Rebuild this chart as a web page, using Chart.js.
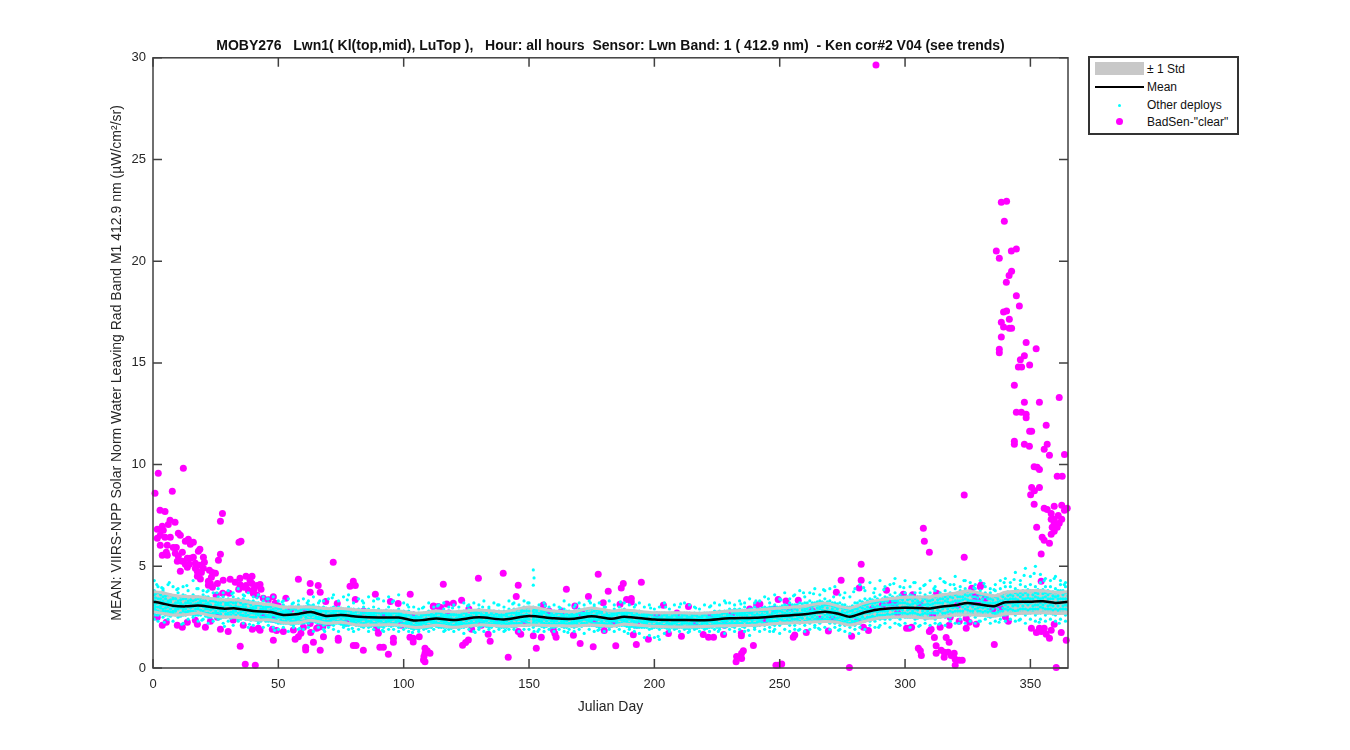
<!DOCTYPE html>
<html>
<head>
<meta charset="utf-8">
<title>MOBY276 Lwn1</title>
<script src="https://cdn.jsdelivr.net/npm/chart.js@4"></script>
<style>
    html, body { margin: 0; padding: 0; background: #fff; }
    #wrap { position: relative; width: 1350px; height: 750px; overflow: hidden; }
    #legend {
        position: absolute; left: 1088px; top: 56px; width: 147px; height: 75px;
        border: 2px solid #333; background: #fff;
        font: 12px "Liberation Sans", Arial, sans-serif; color: #111;
    }
    #legend .row { position: absolute; left: 57px; white-space: nowrap; line-height: 14px; }
    #legend .mark { position: absolute; }
</style>
</head>
<body>
<div id="wrap">
    <canvas id="chart" width="1350" height="750"></canvas>
    <div id="legend">
        <div class="mark" style="left:5px;top:4px;width:49px;height:13px;background:#c8c8c8"></div>
        <div class="row" style="top:4px">± 1 Std</div>
        <div class="mark" style="left:5px;top:28px;width:49px;height:2px;background:#000"></div>
        <div class="row" style="top:22px">Mean</div>
        <div class="mark" style="left:28px;top:46px;width:3px;height:3px;border-radius:50%;background:#00ffff"></div>
        <div class="row" style="top:40px">Other deploys</div>
        <div class="mark" style="left:26px;top:60px;width:7px;height:7px;border-radius:50%;background:#ff00ff"></div>
        <div class="row" style="top:57px">BadSen-"clear"</div>
    </div>
</div>
<script>
const titleText = 'MOBY276   Lwn1( Kl(top,mid), LuTop ),   Hour: all hours  Sensor: Lwn Band: 1 ( 412.9 nm)  - Ken cor#2 V04 (see trends)';
const xLabel = 'Julian Day';
const yLabel = 'MEAN: VIIRS-NPP Solar Norm Water Leaving Rad Band M1 412.9 nm (µW/cm²/sr)';
const xTicks = [0, 50, 100, 150, 200, 250, 300, 350];
const yTicks = [0, 5, 10, 15, 20, 25, 30];

const meanDays = [0, 3, 8, 13, 18, 23, 28, 33, 40, 47, 52, 58, 63, 69, 75, 82, 90, 98, 104, 108, 113, 120, 130, 140, 150, 160, 168, 175, 183, 188, 200, 210, 220, 230, 240, 250, 260, 268, 273, 278, 284, 290, 300, 310, 315, 320, 325, 333, 336, 340, 350, 355, 360, 365];
const meanValues = [3.26, 3.2, 3.06, 3.03, 3.07, 3.0, 2.92, 2.93, 2.8, 2.75, 2.61, 2.66, 2.75, 2.56, 2.6, 2.52, 2.48, 2.48, 2.34, 2.36, 2.43, 2.36, 2.49, 2.39, 2.56, 2.44, 2.42, 2.54, 2.42, 2.52, 2.38, 2.36, 2.35, 2.44, 2.47, 2.56, 2.64, 2.77, 2.68, 2.52, 2.74, 2.89, 2.96, 2.93, 3.02, 3.08, 3.2, 3.06, 3.05, 3.23, 3.26, 3.28, 3.2, 3.26];
const upperValues = [3.75, 3.72, 3.58, 3.52, 3.5, 3.42, 3.35, 3.35, 3.2, 3.12, 3.0, 3.0, 3.0, 2.92, 2.92, 2.85, 2.82, 2.8, 2.7, 2.72, 2.8, 2.76, 2.85, 2.77, 3.0, 2.8, 2.78, 2.95, 2.8, 2.85, 2.72, 2.72, 2.7, 2.8, 2.85, 2.95, 3.05, 3.2, 3.05, 2.95, 3.2, 3.35, 3.48, 3.5, 3.6, 3.68, 3.78, 3.6, 3.55, 3.72, 3.8, 3.8, 3.72, 3.75];
const lowerValues = [2.77, 2.7, 2.6, 2.62, 2.7, 2.58, 2.5, 2.5, 2.36, 2.36, 2.22, 2.22, 2.35, 2.2, 2.25, 2.11, 2.12, 2.12, 2.0, 2.02, 2.1, 2.0, 2.12, 2.05, 2.11, 2.08, 2.06, 2.12, 2.06, 2.15, 2.05, 2.02, 2.04, 2.08, 2.1, 2.2, 2.24, 2.28, 2.25, 2.11, 2.3, 2.46, 2.52, 2.45, 2.52, 2.6, 2.62, 2.58, 2.55, 2.65, 2.7, 2.72, 2.68, 2.7];

// each row: day, then the values of the other deployments on that day
const otherDeploys = [
[0.5,2.4,2.7,2.9,3.1,3.3,3.6,3.8,4.3],[2,2.3,2.6,2.8,3.0,3.2,3.4,3.7,4.0],[4,2.5,2.8,2.9,3.1,3.3,3.5,3.8,3.9],[6,2.4,2.6,2.8,3.0,3.2,3.3,3.6,4.1],
[8,2.3,2.7,2.8,3.0,3.1,3.4,3.5,4.0],[10,2.5,2.6,2.9,3.0,3.2,3.3,3.7,3.9],[12,2.2,2.6,2.8,2.9,3.1,3.4,3.6,4.0],[14,2.4,2.7,2.8,3.0,3.2,3.3,3.5,3.8],
[16,2.5,2.6,2.8,3.0,3.1,3.3,3.6,4.3],[18,2.3,2.6,2.9,3.0,3.2,3.4,3.5,3.9],[20,2.4,2.7,2.8,3.0,3.1,3.3,3.6,3.8],[22,2.2,2.5,2.7,2.9,3.1,3.2,3.5,3.8],
[24,2.3,2.6,2.7,2.9,3.0,3.3,3.4,3.7],[26,2.4,2.5,2.7,2.9,3.1,3.2,3.5,3.9],[28,2.2,2.5,2.8,2.9,3.0,3.3,3.5,3.7],[30,2.3,2.6,2.7,2.9,3.1,3.2,3.4,3.8],
[32,2.1,2.5,2.7,2.8,3.0,3.2,3.5,3.7],[34,2.3,2.4,2.7,2.9,3.0,3.3,3.4,3.9],[36,2.2,2.5,2.6,2.8,3.0,3.1,3.4,3.6],[38,2.0,2.4,2.6,2.8,2.9,3.2,3.3,3.7],
[40,2.1,2.4,2.5,2.7,2.9,3.0,3.3,3.5],[42,2.2,2.3,2.6,2.7,2.8,3.1,3.2,3.6],[44,2.0,2.4,2.5,2.7,2.9,3.0,3.3,3.5],[46,2.1,2.3,2.5,2.6,2.8,3.0,3.2,3.4],
[48,2.0,2.3,2.4,2.6,2.8,2.9,3.1,3.5],[50,1.9,2.2,2.5,2.6,2.7,2.9,3.0,3.3],[52,2.0,2.2,2.3,2.5,2.7,2.8,3.1,3.3],[54,1.8,2.2,2.4,2.5,2.7,2.8,3.0,3.4],
[56,2.0,2.1,2.3,2.5,2.6,2.9,3.0,3.2],[58,1.9,2.2,2.4,2.5,2.7,2.8,3.1,3.3],[60,1.9,2.2,2.3,2.6,2.7,2.9,3.0,3.4],[62,2.0,2.2,2.4,2.6,2.8,2.9,3.1,3.3],
[64,1.8,2.3,2.4,2.6,2.7,2.9,3.1,3.5],[66,2.0,2.2,2.4,2.5,2.7,2.8,3.0,3.2],[68,1.9,2.1,2.3,2.5,2.6,2.8,3.0,3.3],[70,2.0,2.2,2.3,2.5,2.6,2.8,2.9,3.4],
[72,1.9,2.1,2.4,2.5,2.7,2.8,3.0,3.6],[74,1.8,2.2,2.3,2.5,2.6,2.8,3.0,3.3],[76,2.0,2.1,2.3,2.5,2.7,2.8,2.9,3.5],[78,1.9,2.1,2.4,2.5,2.6,2.8,3.0,3.6],
[80,1.8,2.2,2.3,2.4,2.6,2.7,2.9,3.2],[82,1.9,2.1,2.3,2.4,2.6,2.8,2.9,3.4],[84,2.0,2.1,2.2,2.4,2.5,2.7,3.0,3.2],[86,1.8,2.0,2.3,2.5,2.6,2.7,2.9,3.5],
[88,1.9,2.1,2.2,2.4,2.6,2.7,3.0,3.3],[90,2.0,2.1,2.3,2.4,2.5,2.7,2.9,3.4],[92,1.8,2.0,2.2,2.4,2.5,2.7,2.8,3.3],[94,1.9,2.1,2.3,2.4,2.6,2.7,3.0,3.5],
[96,1.9,2.1,2.2,2.4,2.5,2.7,2.8,3.3],[98,1.8,2.0,2.3,2.4,2.6,2.7,2.9,3.6],[100,1.9,2.1,2.2,2.4,2.5,2.6,2.8,3.2],[102,1.8,2.0,2.2,2.3,2.4,2.6,2.8,3.0],
[104,1.9,2.0,2.1,2.3,2.4,2.5,2.7,3.0],[106,1.8,1.9,2.1,2.2,2.4,2.5,2.7,2.9],[108,1.9,2.0,2.2,2.3,2.4,2.6,2.7,3.0],[110,1.8,2.0,2.1,2.3,2.4,2.6,2.8,3.2],
[112,1.9,2.1,2.2,2.3,2.5,2.6,2.8,3.0],[114,2.0,2.1,2.2,2.4,2.5,2.7,2.8,3.1],[116,1.8,2.0,2.2,2.3,2.5,2.6,2.9,3.2],[118,1.9,2.1,2.2,2.4,2.5,2.6,2.8,3.0],
[120,1.8,2.0,2.1,2.3,2.4,2.6,2.7,3.1],[122,1.9,2.1,2.2,2.3,2.5,2.6,2.8,3.0],[124,1.7,2.0,2.2,2.4,2.5,2.7,2.8,3.2],[126,1.9,2.1,2.2,2.4,2.5,2.6,2.9,3.1],
[128,1.8,2.1,2.2,2.4,2.5,2.7,2.8,3.2],[130,1.9,2.0,2.3,2.4,2.5,2.7,2.9,3.1],[132,1.8,2.1,2.2,2.3,2.5,2.6,2.8,3.3],[134,1.9,2.0,2.2,2.4,2.5,2.6,2.9,3.0],
[136,1.8,2.1,2.2,2.3,2.5,2.6,2.8,3.2],[138,1.9,2.0,2.2,2.3,2.5,2.6,2.8,3.1],[140,1.8,2.0,2.2,2.3,2.4,2.6,2.8,3.0],[142,1.9,2.1,2.2,2.4,2.5,2.7,2.9,3.3],
[144,1.9,2.0,2.2,2.4,2.5,2.7,2.9,3.2],[146,1.8,2.1,2.2,2.4,2.6,2.7,2.9,3.1],[148,1.9,2.1,2.3,2.4,2.6,2.8,3.0,3.3],[150,1.9,2.1,2.2,2.4,2.6,2.8,3.0,3.2],
[151.7,2.0,2.2,2.4,2.6,2.8,3.0,4.07,4.82],[152,1.8,2.1,2.3,2.5,2.6,2.7,2.9,4.43],[154,1.9,2.1,2.3,2.4,2.6,2.7,2.9,3.1],[156,1.8,2.0,2.2,2.4,2.5,2.7,2.8,3.2],
[158,1.9,2.1,2.2,2.4,2.5,2.6,2.8,3.0],[160,1.8,2.0,2.2,2.3,2.5,2.6,2.8,3.1],[162,1.9,2.1,2.2,2.4,2.5,2.7,2.8,3.0],[164,1.8,2.0,2.2,2.3,2.5,2.6,2.9,3.3],
[166,1.9,2.1,2.2,2.4,2.5,2.6,2.8,3.1],[168,1.8,2.0,2.2,2.3,2.5,2.6,2.8,3.0],[170,1.9,2.1,2.3,2.4,2.5,2.7,2.9,3.2],[172,1.7,2.1,2.2,2.4,2.6,2.7,2.9,3.1],
[174,1.9,2.1,2.3,2.4,2.6,2.7,2.9,3.3],[176,1.8,2.1,2.2,2.4,2.6,2.8,3.0,3.1],[178,1.9,2.0,2.2,2.4,2.5,2.7,2.8,3.2],[180,1.8,2.1,2.2,2.4,2.5,2.6,2.9,3.0],
[182,1.9,2.0,2.2,2.3,2.5,2.6,2.8,3.3],[184,1.8,2.1,2.3,2.4,2.6,2.7,2.9,3.1],[186,1.9,2.1,2.2,2.4,2.5,2.7,2.8,3.0],[188,1.8,2.1,2.3,2.4,2.6,2.7,2.9,3.2],
[190,1.9,2.0,2.2,2.4,2.5,2.7,2.8,3.1],[192,1.8,2.0,2.2,2.3,2.5,2.6,2.8,3.0],[194,1.7,2.0,2.1,2.3,2.4,2.6,2.8,3.2],[196,1.5,2.0,2.2,2.3,2.5,2.6,2.7,3.0],
[198,1.6,1.9,2.1,2.3,2.4,2.6,2.7,3.1],[200,1.5,2.0,2.1,2.3,2.4,2.5,2.7,2.9],[202,1.4,1.9,2.1,2.2,2.4,2.5,2.7,3.0],[204,1.7,2.0,2.1,2.3,2.4,2.6,2.7,3.2],
[206,1.8,1.9,2.1,2.2,2.4,2.5,2.7,2.9],[208,1.9,2.0,2.2,2.3,2.4,2.6,2.7,3.1],[210,1.8,2.0,2.1,2.3,2.4,2.5,2.7,3.0],[212,1.9,2.0,2.2,2.3,2.4,2.6,2.7,3.2],
[214,1.8,1.9,2.1,2.2,2.4,2.5,2.7,3.1],[216,1.9,2.0,2.1,2.3,2.4,2.6,2.7,3.0],[218,1.8,2.0,2.1,2.3,2.4,2.5,2.7,2.9],[220,1.9,2.0,2.2,2.3,2.4,2.6,2.7,3.1],
[222,1.8,2.0,2.1,2.3,2.4,2.5,2.7,3.0],[224,1.9,2.1,2.2,2.3,2.5,2.6,2.8,3.2],[226,1.9,2.0,2.2,2.4,2.5,2.6,2.8,3.1],[228,1.7,2.0,2.2,2.3,2.5,2.7,2.8,3.3],
[230,1.9,2.1,2.2,2.4,2.5,2.6,2.9,3.2],[232,1.8,2.0,2.2,2.4,2.5,2.7,2.9,3.1],[234,1.9,2.1,2.2,2.4,2.6,2.7,2.9,3.3],[236,1.8,2.0,2.3,2.4,2.6,2.7,3.0,3.2],
[238,1.6,2.1,2.2,2.4,2.5,2.7,2.9,3.4],[240,1.9,2.0,2.2,2.4,2.6,2.8,3.0,3.2],[242,1.8,2.1,2.3,2.4,2.6,2.8,2.9,3.3],[244,1.9,2.1,2.2,2.5,2.6,2.8,3.0,3.5],
[246,1.8,2.0,2.3,2.4,2.6,2.9,3.0,3.2],[248,1.9,2.1,2.3,2.5,2.7,2.8,3.1,3.6],[250,1.7,2.1,2.2,2.4,2.6,2.8,3.0,3.4],[252,1.9,2.2,2.3,2.5,2.7,2.9,3.1,3.7],
[254,1.8,2.1,2.3,2.5,2.7,2.9,3.2,3.4],[256,1.9,2.1,2.4,2.6,2.7,2.9,3.1,3.6],[258,1.9,2.2,2.3,2.5,2.7,3.0,3.2,3.8],[260,1.8,2.1,2.3,2.6,2.8,2.9,3.2,3.5],
[262,1.9,2.2,2.4,2.6,2.8,3.0,3.3,3.7],[264,2.0,2.1,2.4,2.6,2.8,3.1,3.2,3.9],[266,1.9,2.2,2.4,2.7,2.9,3.0,3.3,3.6],[268,2.0,2.3,2.4,2.6,2.8,3.1,3.4,3.8],
[270,1.9,2.2,2.4,2.6,2.8,3.1,3.3,3.9],[272,2.0,2.2,2.4,2.6,2.8,3.0,3.2,4.0],[274,1.9,2.1,2.3,2.5,2.7,3.0,3.2,3.6],[276,1.8,2.1,2.3,2.5,2.7,2.9,3.1,3.7],
[278,1.7,2.0,2.2,2.4,2.6,2.8,3.0,3.5],[280,1.9,2.1,2.3,2.5,2.7,2.9,3.2,3.9],[282,2.0,2.2,2.4,2.6,2.8,3.0,3.3,4.1],[284,1.9,2.3,2.4,2.7,2.9,3.1,3.4,3.8],
[286,2.1,2.3,2.5,2.7,2.9,3.2,3.4,4.2],[288,2.0,2.3,2.5,2.8,3.0,3.2,3.5,3.9],[290,2.1,2.4,2.6,2.8,3.0,3.3,3.6,4.3],[292,2.2,2.4,2.6,2.8,3.1,3.3,3.5,4.0],
[294,2.0,2.4,2.6,2.9,3.1,3.4,3.6,4.1],[296,2.2,2.5,2.7,2.9,3.1,3.3,3.7,4.4],[298,2.1,2.4,2.7,2.9,3.2,3.4,3.6,4.0],[300,2.2,2.5,2.7,3.0,3.2,3.5,3.7,4.3],
[302,2.0,2.5,2.7,2.9,3.1,3.4,3.6,4.0],[304,2.2,2.4,2.7,2.9,3.2,3.4,3.7,4.2],[306,2.1,2.5,2.6,3.0,3.2,3.5,3.7,3.9],[308,2.2,2.4,2.7,2.9,3.1,3.4,3.6,4.1],
[310,2.1,2.5,2.7,2.9,3.1,3.3,3.7,4.3],[312,2.2,2.4,2.7,3.0,3.2,3.5,3.8,4.0],[314,2.2,2.5,2.8,3.0,3.2,3.4,3.7,4.4],[316,2.1,2.5,2.7,3.0,3.3,3.5,3.8,4.2],
[318,2.3,2.5,2.8,3.0,3.2,3.5,3.7,4.1],[320,2.2,2.6,2.8,3.0,3.3,3.6,3.9,4.5],[322,2.4,2.6,2.8,3.1,3.3,3.5,3.8,4.0],[324,2.2,2.6,2.9,3.1,3.4,3.6,3.9,4.3],
[326,2.3,2.6,2.8,3.1,3.3,3.6,3.8,4.2],[328,2.2,2.5,2.9,3.1,3.3,3.5,3.9,4.1],[330,2.3,2.6,2.8,3.0,3.3,3.6,3.8,4.3],[332,2.4,2.6,2.8,3.0,3.2,3.5,3.7,4.0],
[334,2.2,2.5,2.8,3.0,3.2,3.4,3.7,3.9],[336,2.3,2.6,2.7,3.0,3.2,3.5,3.8,4.1],[338,2.4,2.6,2.8,3.1,3.3,3.6,3.9,4.3],[340,2.3,2.6,2.9,3.1,3.4,3.7,4.0,4.4],
[342,2.4,2.7,2.9,3.2,3.4,3.6,4.0,4.2],[344,2.3,2.6,2.8,3.1,3.4,3.7,3.9,4.7],[346,2.4,2.7,2.9,3.2,3.5,3.7,4.1,4.3],[348,2.2,2.6,2.9,3.2,3.4,3.7,4.0,4.9],
[350,2.4,2.7,2.9,3.2,3.4,3.8,4.1,4.5],[352,2.3,2.6,2.9,3.1,3.5,3.7,4.0,5.0],[354,2.4,2.7,3.0,3.2,3.4,3.8,4.2,4.6],[356,2.3,2.6,2.9,3.2,3.5,3.7,4.0,4.4],
[358,2.4,2.7,2.9,3.1,3.4,3.7,4.0,4.3],[360,2.3,2.6,2.9,3.2,3.5,3.7,3.9,4.5],[362,2.4,2.7,2.9,3.2,3.4,3.8,4.1,4.3],[364,2.3,2.6,2.9,3.1,3.4,3.7,4.0,4.2]
];
// the dense core of the same cloud, on the days between the rows above
const otherCore = [
[1,2.6,2.85,3.0,3.15,3.25,3.45,3.65],[3,2.65,2.75,2.95,3.05,3.25,3.4,3.6],[5,2.6,2.8,2.95,3.1,3.2,3.4,3.55],[7,2.55,2.75,2.9,3.1,3.25,3.35,3.6],[9,2.6,2.8,2.9,3.05,3.2,3.4,3.55],[11,2.55,2.7,2.95,3.1,3.2,3.35,3.5],[13,2.6,2.75,2.9,3.05,3.2,3.4,3.55],[15,2.65,2.8,2.95,3.05,3.2,3.35,3.5],
[17,2.6,2.75,2.9,3.05,3.15,3.35,3.5],[19,2.6,2.7,2.85,3.05,3.2,3.3,3.45],[21,2.55,2.7,2.9,3.0,3.15,3.3,3.5],[23,2.5,2.65,2.85,3.0,3.1,3.3,3.4],[25,2.5,2.7,2.8,2.95,3.1,3.25,3.4],[27,2.45,2.65,2.8,2.95,3.05,3.2,3.4],[29,2.5,2.65,2.8,2.9,3.1,3.2,3.35],[31,2.45,2.6,2.75,2.95,3.05,3.25,3.35],
[33,2.5,2.6,2.8,2.9,3.05,3.2,3.35],[35,2.4,2.6,2.75,2.9,3.0,3.2,3.3],[37,2.4,2.55,2.7,2.85,3.0,3.15,3.3],[39,2.35,2.5,2.7,2.85,2.95,3.1,3.25],[41,2.35,2.5,2.65,2.8,2.95,3.05,3.2],[43,2.3,2.5,2.65,2.75,2.9,3.05,3.15],[45,2.3,2.45,2.6,2.75,2.9,3.0,3.15],[47,2.3,2.45,2.55,2.7,2.85,3.0,3.1],
[49,2.25,2.4,2.55,2.7,2.8,2.95,3.05],[51,2.2,2.35,2.5,2.65,2.75,2.9,3.0],[53,2.2,2.3,2.45,2.6,2.75,2.85,3.0],[55,2.15,2.3,2.45,2.55,2.7,2.85,2.95],[57,2.2,2.35,2.45,2.6,2.7,2.85,3.0],[59,2.2,2.3,2.5,2.6,2.75,2.85,3.0],[61,2.25,2.35,2.5,2.65,2.75,2.9,3.0],[63,2.3,2.4,2.55,2.7,2.8,2.95,3.05],
[65,2.25,2.4,2.5,2.65,2.8,2.9,3.0],[67,2.2,2.35,2.45,2.6,2.75,2.85,2.95],[69,2.15,2.3,2.45,2.55,2.7,2.8,2.95],[71,2.15,2.3,2.4,2.55,2.7,2.85,2.95],[73,2.2,2.3,2.45,2.55,2.65,2.8,2.9],[75,2.15,2.25,2.4,2.55,2.7,2.8,2.95],[77,2.1,2.25,2.4,2.5,2.65,2.8,2.9],[79,2.15,2.25,2.35,2.5,2.65,2.75,2.9],
[81,2.1,2.2,2.35,2.5,2.6,2.75,2.85],[83,2.05,2.2,2.35,2.45,2.6,2.7,2.85],[85,2.1,2.25,2.35,2.45,2.55,2.7,2.85],[87,2.05,2.2,2.3,2.45,2.6,2.7,2.8],[89,2.1,2.2,2.35,2.45,2.55,2.7,2.8],[91,2.05,2.15,2.3,2.45,2.55,2.65,2.8],[93,2.1,2.2,2.3,2.45,2.6,2.7,2.85],[95,2.05,2.2,2.35,2.45,2.55,2.65,2.8],
[97,2.1,2.2,2.3,2.45,2.55,2.7,2.8],[99,2.05,2.15,2.3,2.45,2.55,2.65,2.75],[101,2.0,2.15,2.25,2.4,2.5,2.6,2.75],[103,1.95,2.1,2.2,2.35,2.45,2.55,2.7],[105,1.95,2.05,2.2,2.3,2.4,2.55,2.65],[107,2.0,2.1,2.2,2.3,2.45,2.55,2.65],[109,1.95,2.1,2.25,2.35,2.45,2.6,2.7],[111,2.0,2.1,2.25,2.35,2.5,2.6,2.7],
[113,2.05,2.15,2.25,2.4,2.5,2.65,2.75],[115,2.0,2.15,2.3,2.4,2.55,2.65,2.75],[117,2.0,2.1,2.25,2.35,2.5,2.6,2.75],[119,1.95,2.1,2.25,2.35,2.45,2.6,2.7],[121,2.0,2.1,2.2,2.35,2.45,2.6,2.75],[123,2.0,2.15,2.25,2.4,2.5,2.6,2.75],[125,2.05,2.15,2.3,2.4,2.55,2.65,2.8],[127,2.05,2.2,2.3,2.45,2.55,2.7,2.8],
[129,2.1,2.2,2.3,2.45,2.6,2.7,2.8],[131,2.05,2.2,2.35,2.45,2.55,2.65,2.8],[133,2.05,2.15,2.3,2.4,2.55,2.65,2.75],[135,2.0,2.15,2.3,2.4,2.5,2.65,2.75],[137,2.05,2.15,2.25,2.4,2.5,2.65,2.75],[139,2.0,2.1,2.25,2.4,2.5,2.6,2.75],[141,2.0,2.15,2.3,2.4,2.55,2.65,2.75],[143,2.05,2.2,2.3,2.45,2.55,2.7,2.8],
[145,2.05,2.2,2.35,2.45,2.6,2.7,2.85],[147,2.1,2.2,2.35,2.5,2.6,2.75,2.85],[149,2.1,2.25,2.4,2.5,2.65,2.8,2.95],[153,2.1,2.2,2.35,2.5,2.6,2.75,2.85],[155,2.05,2.2,2.3,2.45,2.6,2.7,2.8],[157,2.05,2.15,2.3,2.45,2.55,2.65,2.8],[159,2.0,2.15,2.3,2.4,2.55,2.65,2.75],[161,2.05,2.15,2.3,2.4,2.5,2.65,2.75],
[163,2.05,2.2,2.3,2.4,2.55,2.65,2.75],[165,2.0,2.15,2.3,2.4,2.5,2.65,2.8],[167,2.05,2.15,2.25,2.4,2.55,2.65,2.75],[169,2.05,2.2,2.3,2.45,2.55,2.65,2.8],[171,2.05,2.2,2.35,2.45,2.6,2.7,2.85],[173,2.1,2.2,2.35,2.5,2.6,2.7,2.85],[175,2.1,2.25,2.35,2.5,2.6,2.75,2.9],[177,2.05,2.2,2.35,2.45,2.6,2.7,2.85],
[179,2.05,2.2,2.3,2.45,2.55,2.7,2.8],[181,2.05,2.15,2.3,2.4,2.55,2.65,2.8],[183,2.05,2.15,2.3,2.4,2.55,2.65,2.75],[185,2.05,2.2,2.3,2.45,2.6,2.7,2.8],[187,2.1,2.2,2.35,2.5,2.6,2.7,2.85],[189,2.05,2.2,2.3,2.45,2.6,2.7,2.8],[191,2.05,2.15,2.3,2.4,2.55,2.65,2.75],[193,2.0,2.15,2.25,2.4,2.5,2.65,2.75],
[195,2.0,2.1,2.25,2.4,2.5,2.6,2.75],[197,2.0,2.15,2.25,2.35,2.5,2.6,2.7],[199,1.95,2.1,2.25,2.35,2.45,2.6,2.7],[201,2.0,2.1,2.2,2.35,2.45,2.6,2.7],[203,2.0,2.1,2.25,2.35,2.45,2.55,2.7],[205,1.95,2.05,2.2,2.3,2.45,2.55,2.65],[207,2.0,2.1,2.2,2.35,2.45,2.55,2.7],[209,1.95,2.1,2.25,2.35,2.45,2.55,2.65],
[211,2.0,2.1,2.2,2.3,2.45,2.55,2.65],[213,1.95,2.05,2.2,2.35,2.45,2.55,2.7],[215,2.0,2.1,2.2,2.3,2.45,2.55,2.65],[217,1.95,2.05,2.2,2.3,2.4,2.55,2.65],[219,2.0,2.1,2.2,2.35,2.45,2.55,2.65],[221,1.95,2.1,2.2,2.3,2.45,2.55,2.7],[223,2.0,2.1,2.25,2.35,2.45,2.6,2.7],[225,2.0,2.15,2.25,2.4,2.5,2.6,2.75],
[227,2.05,2.15,2.3,2.4,2.5,2.65,2.75],[229,2.05,2.15,2.3,2.45,2.55,2.65,2.8],[231,2.05,2.2,2.3,2.45,2.55,2.7,2.8],[233,2.1,2.2,2.3,2.45,2.6,2.7,2.85],[235,2.05,2.2,2.35,2.45,2.6,2.7,2.85],[237,2.1,2.2,2.35,2.5,2.6,2.75,2.85],[239,2.1,2.25,2.35,2.5,2.65,2.75,2.9],[241,2.1,2.25,2.4,2.5,2.65,2.8,2.9],
[243,2.15,2.25,2.4,2.55,2.65,2.8,2.95],[245,2.15,2.3,2.4,2.55,2.7,2.8,2.95],[247,2.15,2.3,2.45,2.6,2.7,2.85,3.0],[249,2.2,2.3,2.45,2.6,2.75,2.85,3.0],[251,2.2,2.35,2.5,2.6,2.75,2.9,3.05],[253,2.2,2.35,2.5,2.65,2.8,2.95,3.05],[255,2.25,2.4,2.55,2.65,2.8,2.95,3.1],[257,2.25,2.4,2.55,2.7,2.85,3.0,3.1],
[259,2.25,2.45,2.6,2.7,2.85,3.0,3.15],[261,2.3,2.45,2.6,2.75,2.9,3.05,3.2],[263,2.3,2.5,2.65,2.8,2.9,3.05,3.2],[265,2.35,2.5,2.7,2.8,2.95,3.1,3.25],[267,2.35,2.5,2.7,2.85,3.0,3.1,3.25],[269,2.35,2.5,2.65,2.8,2.95,3.1,3.25],[271,2.3,2.5,2.65,2.8,2.9,3.05,3.2],[273,2.3,2.45,2.6,2.75,2.9,3.0,3.15],
[275,2.25,2.4,2.55,2.7,2.8,2.95,3.1],[277,2.2,2.35,2.5,2.6,2.75,2.9,3.0],[279,2.2,2.3,2.5,2.65,2.8,2.9,3.05],[281,2.3,2.45,2.6,2.75,2.9,3.05,3.2],[283,2.3,2.5,2.65,2.8,2.95,3.1,3.25],[285,2.35,2.5,2.7,2.85,3.0,3.15,3.3],[287,2.4,2.55,2.75,2.9,3.05,3.2,3.35],[289,2.45,2.6,2.75,2.9,3.05,3.25,3.4],
[291,2.45,2.6,2.8,2.95,3.1,3.25,3.4],[293,2.5,2.65,2.8,2.95,3.1,3.3,3.45],[295,2.5,2.65,2.85,3.0,3.15,3.3,3.5],[297,2.5,2.7,2.85,3.0,3.15,3.3,3.5],[299,2.55,2.7,2.85,3.0,3.2,3.35,3.5],[301,2.5,2.65,2.85,3.0,3.15,3.35,3.5],[303,2.5,2.7,2.8,3.0,3.15,3.3,3.55],[305,2.45,2.65,2.85,3.0,3.15,3.3,3.5],
[307,2.5,2.65,2.8,2.95,3.1,3.3,3.45],[309,2.45,2.65,2.8,3.0,3.15,3.3,3.5],[311,2.5,2.7,2.85,3.0,3.15,3.35,3.55],[313,2.5,2.7,2.85,3.0,3.2,3.35,3.55],[315,2.55,2.7,2.9,3.05,3.2,3.4,3.6],[317,2.55,2.75,2.9,3.05,3.25,3.4,3.6],[319,2.6,2.75,2.95,3.1,3.25,3.45,3.65],[321,2.6,2.8,2.95,3.15,3.3,3.5,3.7],
[323,2.65,2.8,3.0,3.15,3.35,3.5,3.75],[325,2.65,2.85,3.0,3.2,3.35,3.55,3.75],[327,2.65,2.8,3.0,3.15,3.3,3.5,3.7],[329,2.6,2.8,2.95,3.1,3.3,3.45,3.65],[331,2.6,2.75,2.95,3.1,3.25,3.4,3.6],[333,2.55,2.75,2.9,3.05,3.2,3.4,3.55],[335,2.55,2.7,2.9,3.05,3.2,3.35,3.55],[337,2.6,2.75,2.9,3.1,3.25,3.4,3.6],
[339,2.6,2.8,2.95,3.15,3.3,3.5,3.65],[341,2.65,2.85,3.0,3.2,3.35,3.55,3.75],[343,2.7,2.85,3.05,3.2,3.4,3.55,3.75],[345,2.7,2.85,3.05,3.2,3.35,3.6,3.8],[347,2.7,2.9,3.05,3.25,3.4,3.6,3.8],[349,2.7,2.85,3.1,3.25,3.45,3.6,3.85],[351,2.75,2.9,3.05,3.25,3.4,3.6,3.8],[353,2.7,2.9,3.1,3.3,3.45,3.65,3.85],
[355,2.75,2.95,3.1,3.3,3.45,3.65,3.85],[357,2.7,2.9,3.05,3.25,3.4,3.6,3.8],[359,2.65,2.85,3.05,3.2,3.4,3.55,3.75],[361,2.7,2.85,3.05,3.25,3.4,3.55,3.8],[363,2.7,2.9,3.05,3.25,3.4,3.6,3.8],[365,2.7,2.85,3.05,3.2,3.4,3.55,3.75]
];
// loose dots above and below the core
const otherLooseDays = [1.5,3.5,6.5,9.5,13.5,17.5,21.5,25.5,31.5,36.5,41.5,45.5,51.5,55.5,61.5,66.5,71.5,77.5,83.5,89.5,95.5,101.5,107.5,113.5,119.5,125.5,131.5,137.5,143.5,149.5,156.5,162.5,168.5,174.5,180.5,186.5,192.5,198.5,204.5,210.5,216.5,222.5,228.5,234.5,240.5,245.5,250.5,255.5,259.5,263.5,267.5,271.5,275.5,279.5,283.5,287.5,291.5,295.5,299.5,303.5,307.5,311.5,315.5,319.5,323.5,327.5,331.5,335.5,339.5,343.5,347.5,351.5,355.5,359.5,363.5,
4.5,11.5,19.5,28.5,38.5,48.5,58.5,68.5,79.5,91.5,103.5,116.5,128.5,140.5,153.5,165.5,177.5,189.5,201.5,213.5,225.5,237.5,247.5,257.5,265.5,273.5,281.5,289.5,297.5,305.5,313.5,321.5,329.5,337.5,345.5,353.5,361.5];
const otherLooseValues = [4.1,3.95,4.2,3.85,4.05,3.9,3.75,3.7,3.65,3.55,3.45,3.4,3.25,3.15,3.2,3.3,3.45,3.35,3.3,3.4,3.25,3.1,2.95,3.05,2.95,3.05,3.0,3.1,3.15,3.2,3.05,2.95,3.1,3.2,3.0,3.25,3.1,2.95,3.0,3.15,2.95,3.05,3.2,3.15,3.3,3.4,3.35,3.55,3.7,3.65,3.85,3.5,3.45,3.75,3.95,3.7,3.85,4.15,3.95,4.2,4.05,3.9,4.25,4.1,4.3,3.95,4.15,3.85,4.2,4.35,4.55,4.65,4.3,4.4,4.1,
2.25,2.15,2.35,2.05,2.15,1.85,1.95,1.8,1.95,1.85,1.75,1.85,1.75,1.85,1.8,1.75,1.85,1.7,1.55,1.75,1.8,1.85,1.8,1.85,1.95,1.85,1.7,2.0,2.15,2.05,2.15,2.2,2.3,2.25,2.35,2.25,2.2];

const badDays = [288.4,338.4,340.5,339.6,336.4,344.4,342.4,337.6,342.5,341.5,340.4,344.4,345.6,340.5,339.3,341.6,338.4,339.3,341.6,342.5,338.4,348.3,352.3,337.6,337.6,347.6,346,349.7,345.2,346.5,343.6,361.5,347.6,353.6,344.4,346.4,348.3,348.3,356.3,349.7,350.5,343.6,343.6,347.6,349.6,356.7,355.5,357.6,363.6,
351.5,352.7,353.6,360.7,362.7,353.6,350.5,351.6,350.1,351.5,355.5,359.5,362.5,364.7,363.6,356.7,358.3,361.1,359.5,358.3,362.5,361.5,359.5,358.7,360.7,352.5,359.5,358.3,354.7,355.5,357.6,354.3,354.3,
350.4,352.4,353.6,354.3,355.5,356.3,357.6,358.3,359.5,362.3,364.3,360.3,335.6,323.6,323.6,307.3,307.7,309.7,300.6,301.7,302.6,309.7,310.4,311.7,312.4,316.4,317.6,314,317.6,321.6,324.4,325.6,328.4,324.4,305.3,306.1,306.5,312.4,314.4,315.6,315.6,317.2,319.6,318.4,320,321.6,322.8,320,
292.6,299.3,303,312.6,330,330.3,326.6,328,332,337.9,341.2,340,294,296,
12.1,2.1,0.8,7.7,2.8,4.8,27.7,26.9,6.8,8.8,6.1,3.7,1.7,4.1,10.1,10.9,1.7,2.9,4.8,6.9,14.1,12.9,16.1,14.9,35.1,34.3,2.9,5.7,8.1,9.3,18.7,18.1,5.3,3.7,5.7,8.9,11.7,10.1,26.9,26.1,20.1,16.1,14.9,13.7,20.5,11.7,9.7,12.9,14.5,16.9,18.7,13.7,16.9,20.1,17.7,10.9,19.3,17.7,18.9,22.5,23.7,24.9,23.3,22.1,22.9,25.7,28,30.8,23.7,22.1,32.8,34.7,37.1,39.5,38.7,34.7,37.1,39.5,36.3,42.7,41.5,40.3,43.1,34.2,38,25.2,27.8,30.4,40,41.4,44,46,48,48.7,50,
58,71.9,62.7,65.9,62.7,66.7,79.9,78.6,80.7,53,68.9,73.5,80.7,88.7,94.7,97.8,102.6,111.9,113.8,
1.7,3.7,5.3,9.7,11.7,13.7,16.9,17.7,20.9,22.9,25.7,26.9,30,36,32,39.6,42.7,42,34.8,36.8,40.8,48,47.6,49.3,52,56,58,56.7,59,60,62.7,62.9,65.3,67.7,68,64,66.7,60.9,60.9,73.9,73.9,79.9,81,83.9,90.5,91.9,93.9,95.9,95.9,89.9,89.2,103.8,102.5,106.2,103.8,108.5,109.4,108.5,108.1,108.5,107.9,
115.8,129.8,139.7,145.7,144.9,177.6,187.6,186.8,194.8,181.6,164.9,173.7,123.1,119.8,111.8,114.8,117.2,155.7,168.3,179.6,186.3,188.9,190.8,190.8,203.6,213.6,
127.1,133.7,146.7,145.7,151.7,154.9,160.3,160.8,159.7,167.7,180,191.6,205.6,210.8,219.5,221.6,223.6,227.6,125.8,124.7,123.5,134.5,152.9,141.7,170.4,175.6,184.6,192.8,197.6,110.5,
235.5,234.8,232.8,234.8,232.6,239.5,250.8,249.4,248.5,277.8,256,255.4,260.6,269.4,278.7,285.4,283.4,282.5,274.5,282.5,281.7,272.6,249.4,242.1,240.8,252.5,257.4,234.7,234.7,
55,70,84,99,118,137,158,176,201,216,231,244,263,271,287,306,318,327,335,48,66,92,126,148,171,193,222,238,254,281,297,321,
44,61,77,104,131,163,184,209,228,248,266,291,311,329];
const badValues = [29.65,22.9,22.95,21.97,20.5,20.6,20.5,20.15,19.5,19.3,18.97,18.3,17.8,17.55,17.5,17.15,17.0,16.77,16.7,16.7,16.27,16.0,15.7,15.67,15.5,15.35,15.15,14.9,14.8,14.8,13.9,13.3,13.07,13.07,12.57,12.57,12.47,12.3,11.93,11.64,11.64,11.15,11.0,11.0,10.9,11.0,10.75,10.46,10.5,
9.9,9.87,9.76,9.43,9.43,8.87,8.87,8.72,8.52,8.05,7.86,7.95,8.0,7.86,7.76,7.79,7.6,7.5,7.31,7.31,7.31,7.12,7.12,6.92,6.92,6.92,6.72,6.57,6.43,6.28,6.13,5.6,4.27,
1.95,1.75,1.95,1.8,1.95,1.66,1.46,1.85,2.15,1.75,1.36,0.03,1.16,8.5,5.45,6.87,6.23,5.69,1.95,1.95,2.0,1.8,1.9,1.5,1.1,1.5,1.27,2.0,2.1,2.3,1.95,2.25,2.15,2.45,0.97,0.85,0.62,0.72,0.87,0.53,0.77,0.77,0.72,0.62,0.43,0.38,0.38,0.13,
3.82,3.63,3.6,3.67,4.0,4.08,3.92,3.54,3.43,2.95,2.3,2.52,3.2,3.2,
9.82,9.57,8.59,8.69,7.76,7.7,7.6,7.22,7.26,7.16,7.06,6.97,6.82,6.77,6.63,6.53,6.38,6.53,6.43,6.43,6.33,6.23,6.18,6.08,6.23,6.18,6.03,6.03,5.93,5.93,5.84,5.74,5.69,5.54,5.54,5.64,5.69,5.49,5.59,5.3,5.45,5.45,5.4,5.4,5.2,5.25,5.25,5.1,5.1,5.15,5.05,4.95,4.9,4.9,4.74,4.76,4.69,4.51,4.37,4.8,4.7,4.66,4.46,4.26,4.16,4.16,4.31,4.36,3.97,4.07,4.21,4.41,4.51,4.51,4.31,4.11,4.06,4.16,3.97,4.11,4.06,3.87,3.87,3.87,3.82,3.58,3.67,3.67,3.67,3.59,3.43,3.35,3.5,3.18,3.05,
4.36,5.2,4.16,4.06,3.72,3.72,4.26,4.02,4.06,3.43,3.27,3.17,3.37,3.62,3.27,3.17,3.62,3.05,3.02,
2.49,2.1,2.25,2.1,2.0,2.25,2.35,2.15,2.0,2.3,2.49,1.9,1.8,2.1,2.36,1.9,1.85,1.95,1.07,0.18,0.13,1.36,1.9,1.84,1.79,1.87,1.54,1.41,1.71,2.0,2.19,1.74,1.95,2.03,1.54,1.26,0.87,1.02,0.89,1.46,1.36,1.11,1.11,0.87,1.02,1.02,0.67,1.46,1.27,1.71,1.95,1.46,1.51,1.54,1.28,0.97,0.85,0.72,0.56,0.31,0.39,
4.12,4.41,4.66,4.07,3.52,4.61,4.16,3.93,4.21,3.77,3.87,3.52,3.33,3.18,3.02,2.98,3.15,3.1,3.05,3.21,3.13,3.37,3.42,3.25,3.08,3.02,
1.9,1.66,1.66,1.79,1.59,1.51,1.7,1.51,1.87,1.61,1.84,1.64,1.7,1.56,1.65,1.51,1.51,1.65,1.38,1.25,1.12,1.31,0.97,0.53,1.2,1.05,1.1,1.15,1.41,0.72,
0.85,0.72,0.56,0.47,0.31,1.11,0.2,0.13,0.13,0.03,1.62,1.51,1.75,1.82,1.56,1.84,2.0,5.1,4.31,4.31,3.93,3.72,3.37,3.15,3.1,3.3,3.33,1.71,1.58,
2.9,2.2,2.8,2.1,2.7,2.3,2.8,2.2,2.6,2.1,2.7,2.3,2.8,2.4,2.9,3.1,2.5,3.2,2.9,2.4,2.0,2.6,2.9,2.2,2.7,2.1,2.5,2.9,3.0,2.3,2.7,3.1,
2.5,2.9,2.2,2.6,2.1,2.8,2.3,2.7,2.1,2.9,2.4,3.1,2.6,3.3];

const toPoints = (xs, ys) => xs.map((x, i) => ({ x, y: ys[i] }));
const rowsToPoints = rows => rows.flatMap(row => row.slice(1).map(y => ({ x: row[0], y })));
const otherPoints = rowsToPoints(otherDeploys).concat(rowsToPoints(otherCore), toPoints(otherLooseDays, otherLooseValues));

const GREY = '#c8c8c8';
const AXIS = '#404040';
const FONT = '"Liberation Sans", Arial, sans-serif';

// matlab style box with inward ticks, chart.js can not do this by itself
const boxPlugin = {
    id: 'box',
    afterDatasetsDraw(chart) {
        const { ctx, chartArea: a, scales } = chart;
        ctx.save();
        ctx.strokeStyle = AXIS;
        ctx.lineWidth = 1.5;
        ctx.strokeRect(a.left, a.top, a.right - a.left, a.bottom - a.top);
        ctx.beginPath();
        xTicks.forEach(t => {
            const x = scales.x.getPixelForValue(t);
            ctx.moveTo(x, a.bottom); ctx.lineTo(x, a.bottom - 9);
            ctx.moveTo(x, a.top); ctx.lineTo(x, a.top + 9);
        });
        yTicks.forEach(t => {
            const y = scales.y.getPixelForValue(t);
            ctx.moveTo(a.left, y); ctx.lineTo(a.left + 9, y);
            ctx.moveTo(a.right, y); ctx.lineTo(a.right - 9, y);
        });
        ctx.stroke();
        ctx.restore();
    }
};

new Chart(document.getElementById('chart'), {
    type: 'scatter',
    data: {
        datasets: [
            { label: '± 1 Std', type: 'line', data: toPoints(meanDays, upperValues), borderWidth: 0, backgroundColor: GREY, fill: '+1', pointRadius: 0, tension: 0.3, order: 7 },
            { label: '± 1 Std low', type: 'line', data: toPoints(meanDays, lowerValues), borderWidth: 0, pointRadius: 0, tension: 0.3, order: 8 },
            { label: 'BadSen-"clear"', data: toPoints(badDays, badValues), backgroundColor: '#ff00ff', borderWidth: 0, pointRadius: 3.5, clip: false, order: 5 },
            { label: 'Other deploys', data: otherPoints, backgroundColor: '#00ffff', borderWidth: 0, pointRadius: 1.6, order: 4 },
            { label: '+1 Std', type: 'line', data: toPoints(meanDays, upperValues), borderColor: GREY, borderWidth: 3, pointRadius: 0, tension: 0.3, order: 3 },
            { label: '-1 Std', type: 'line', data: toPoints(meanDays, lowerValues), borderColor: GREY, borderWidth: 3, pointRadius: 0, tension: 0.3, order: 2 },
            { label: 'Mean', type: 'line', data: toPoints(meanDays, meanValues), borderColor: '#000', borderWidth: 2.5, pointRadius: 0, tension: 0.3, order: 1 }
        ]
    },
    options: {
        responsive: false,
        animation: false,
        events: [],
        layout: { padding: { left: 0, right: 282, top: 0, bottom: 0 } },
        plugins: {
            legend: { display: false },
            tooltip: { enabled: false },
            title: {
                display: true,
                text: titleText,
                fullSize: false,
                color: '#111',
                font: { family: FONT, size: 14, weight: 'bold' },
                padding: { top: 38, bottom: 3 }
            }
        },
        scales: {
            x: {
                type: 'linear', min: 0, max: 365,
                afterBuildTicks: s => { s.ticks = xTicks.map(value => ({ value })); },
                afterFit: s => { s.height = 82; },
                grid: { display: false, drawTicks: false },
                border: { display: false },
                ticks: { color: '#262626', font: { family: FONT, size: 13 }, padding: 9, maxRotation: 0 },
                title: { display: true, text: xLabel, color: '#262626', font: { family: FONT, size: 14 }, padding: { bottom: 34 } }
            },
            y: {
                min: 0, max: 30,
                afterBuildTicks: s => { s.ticks = yTicks.map(value => ({ value })); },
                afterFit: s => { s.width = 153; },
                grid: { display: false, drawTicks: false },
                border: { display: false },
                ticks: { color: '#262626', font: { family: FONT, size: 13 }, padding: 7 },
                title: { display: true, text: yLabel, color: '#262626', font: { family: FONT, size: 14 }, padding: { top: 109 } }
            }
        }
    },
    plugins: [boxPlugin]
});
</script>
</body>
</html>
